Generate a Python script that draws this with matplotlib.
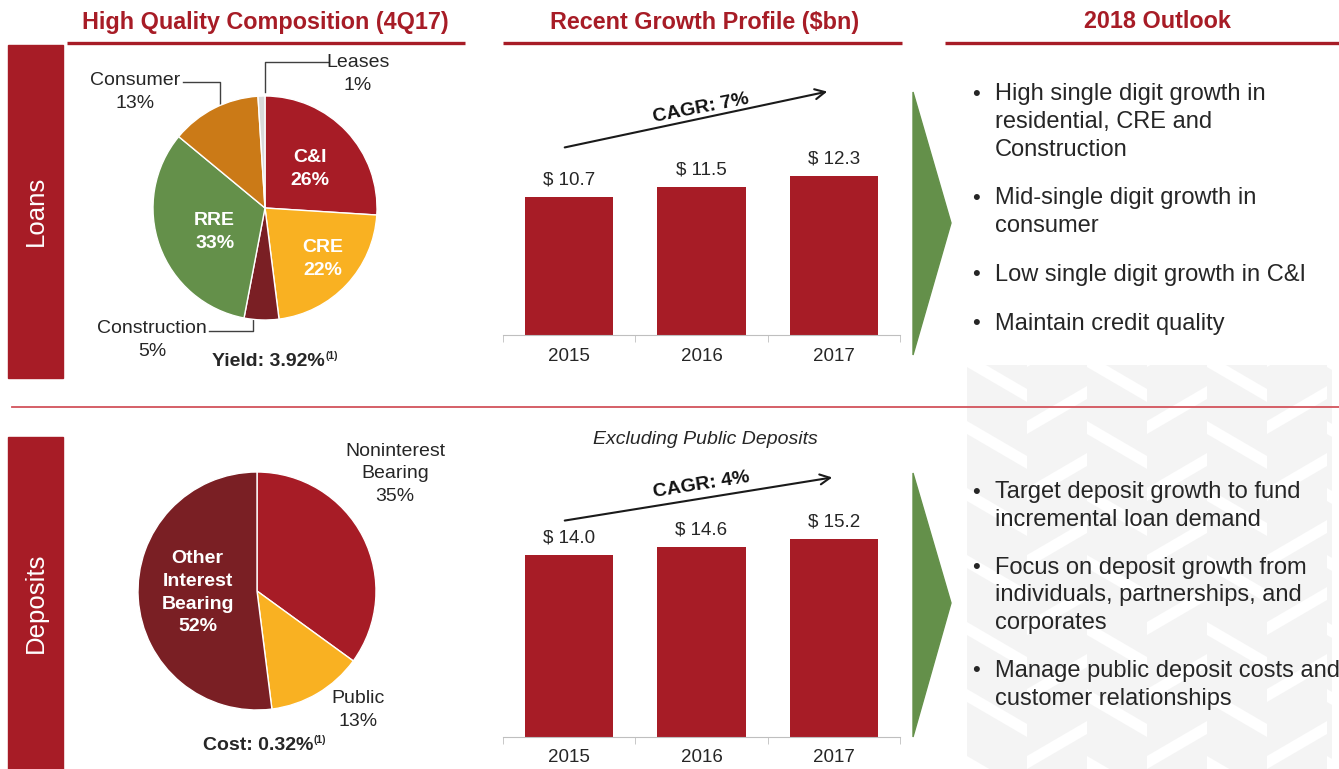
import numpy as np
import matplotlib
matplotlib.use("Agg")
import matplotlib.pyplot as plt
from matplotlib.patches import Rectangle, Polygon

plt.rcParams['font.family'] = ['Liberation Sans', 'DejaVu Sans']

# dati
years = ['2015', '2016', '2017']
loans_bn = [10.7, 11.5, 12.3]
deposits_bn = [14.0, 14.6, 15.2]

loan_labels = ['C&I', 'CRE', 'Construction', 'RRE', 'Consumer', 'Leases']
loan_share = [26, 22, 5, 33, 13, 1]
deposit_labels = ['Noninterest\nBearing', 'Public', 'Other\nInterest\nBearing']
deposit_share = [35, 13, 52]

loans_outlook = ['High single digit growth in\nresidential, CRE and\nConstruction',
                 'Mid-single digit growth in\nconsumer',
                 'Low single digit growth in C&I',
                 'Maintain credit quality']
deposits_outlook = ['Target deposit growth to fund\nincremental loan demand',
                    'Focus on deposit growth from\nindividuals, partnerships, and\ncorporates',
                    'Manage public deposit costs and\ncustomer relationships']

RED = '#A71C26'
DARKRED = '#7A1F24'
YELLOW = '#F9B122'
ORANGE = '#CB7A17'
GREEN = '#64904A'
GREY = '#D9D9D9'
TXT = '#262626'

W, H = 1339, 769
fig = plt.figure(figsize=(W / 100, H / 100), dpi=100)


def px_axes(x0, y0, x1, y1, **kw):
    return fig.add_axes([x0 / W, 1 - y1 / H, (x1 - x0) / W, (y1 - y0) / H], **kw)


# sfondo in coordinate pixel
bg = px_axes(0, 0, W, H)
bg.set_xlim(0, W)
bg.set_ylim(H, 0)
bg.axis('off')

# motivo a spina di pesce grigio chiaro (colonne di chevron)
clip = Rectangle((965, 365), W - 972, H - 365, transform=bg.transData, visible=False)
bg.add_patch(clip)
for i, cx in enumerate([967, 1027, 1087, 1147, 1207, 1267, 1327]):
    slope = 35 if i % 2 == 0 else -35
    for y in range(300, 820, 67):
        pts = [(cx, y), (cx + 60, y + slope), (cx + 60, y + slope + 54), (cx, y + 54)]
        p = Polygon(pts, closed=True, fc='#F4F4F4', ec='none', zorder=0)
        bg.add_patch(p)
        p.set_clip_path(clip)

# intestazioni
for txt, xc, xa, xb in [('High Quality Composition (4Q17)', 265, 67, 465),
                        ('Recent Growth Profile ($bn)', 705, 503, 902),
                        ('2018 Outlook', 1157, 945, 1339)]:
    bg.text(xc, 22, txt, ha='center', va='center', fontsize=16.8, fontweight='bold', color=RED)
    bg.plot([xa, xb], [43, 43], color=RED, lw=2.4, solid_capstyle='butt')

bg.plot([12, W], [407, 407], color='#D2535C', lw=1.3)

# barre laterali
bg.add_patch(Rectangle((8, 45), 55, 333, color=RED))
bg.add_patch(Rectangle((8, 437), 55, 332, color=RED))
bg.text(36, 211, 'Loans', rotation=90, ha='center', va='center', color='white', fontsize=18.5)
bg.text(36, 603, 'Deposits', rotation=90, ha='center', va='center', color='white', fontsize=18.5)

# frecce verdi
bg.add_patch(Polygon([(913, 92), (951, 223), (913, 355)], color=GREEN))
bg.add_patch(Polygon([(913, 473), (951, 603), (913, 737)], color=GREEN))


def bullets(items, y0, gap, line_h=27.8):
    y = y0
    for item in items:
        bg.text(972, y, '\u2022', ha='left', va='center', fontsize=16, color=TXT)
        for line in item.split('\n'):
            bg.text(995, y, line, ha='left', va='center', fontsize=17, color=TXT)
            y += line_h
        y += gap


bullets(loans_outlook, 94, 21)
bullets(deposits_outlook, 492, 20)


def draw_pie(box, shares, colors):
    ax = px_axes(*box)
    wedges, _ = ax.pie(shares, colors=colors, startangle=90, counterclock=False,
                       wedgeprops=dict(edgecolor='white', linewidth=1))
    ax.set_xlim(-1, 1)
    ax.set_ylim(-1, 1)
    ax.set_aspect('equal')
    ax.axis('off')
    return ax, wedges


def inner_label(ax, w, text, r, dang=0):
    ang = np.deg2rad((w.theta1 + w.theta2) / 2 + dang)
    ax.text(r * np.cos(ang), r * np.sin(ang), text, ha='center', va='center',
            color='white', fontweight='bold', fontsize=14, linespacing=1.45)


# torta prestiti
ax1, w1 = draw_pie((153, 96, 377, 320), loan_share,
                   [RED, YELLOW, DARKRED, GREEN, ORANGE, GREY])
inner_label(ax1, w1[0], f'{loan_labels[0]}\n{loan_share[0]}%', 0.53, -2)
inner_label(ax1, w1[1], f'{loan_labels[1]}\n{loan_share[1]}%', 0.69, 2)
inner_label(ax1, w1[3], f'{loan_labels[3]}\n{loan_share[3]}%', 0.5, 6)

lk = dict(ha='center', va='center', fontsize=14, color=TXT, linespacing=1.4)
bg.text(135, 92, f'{loan_labels[4]}\n{loan_share[4]}%', **lk)
bg.plot([183, 220, 220], [82, 82, 106], color='#404040', lw=1)
bg.text(358, 74, f'{loan_labels[5]}\n{loan_share[5]}%', **lk)
bg.plot([265, 265, 328], [92, 62, 62], color='#404040', lw=1)
bg.text(152, 340, f'{loan_labels[2]}\n{loan_share[2]}%', **lk)
bg.plot([209, 253, 253], [331, 331, 317], color='#404040', lw=1)
bg.text(325, 362, 'Yield: 3.92%', ha='right', va='center', fontsize=14, fontweight='bold', color=TXT)
bg.text(325, 356, '(1)', ha='left', va='center', fontsize=7.5, fontweight='bold', color=TXT)

# torta depositi
ax2, w2 = draw_pie((138, 472, 376, 710), deposit_share, [RED, YELLOW, DARKRED])
inner_label(ax2, w2[2], f'{deposit_labels[2]}\n{deposit_share[2]}%', 0.5, -2)
bg.text(395, 474, f'{deposit_labels[0]}\n{deposit_share[0]}%', **lk)
bg.text(358, 710, f'{deposit_labels[1]}\n{deposit_share[1]}%', **lk)
bg.text(313, 746, 'Cost: 0.32%', ha='right', va='center', fontsize=14, fontweight='bold', color=TXT)
bg.text(313, 740, '(1)', ha='left', va='center', fontsize=7.5, fontweight='bold', color=TXT)


def draw_bars(box, vals):
    ax = px_axes(*box)
    ax.patch.set_alpha(0)
    x = np.arange(len(years))
    ax.bar(x, vals, width=0.67, color=RED)
    for xi, v in zip(x, vals):
        ax.annotate(f'$ {v:.1f}', (xi, v), xytext=(0, 6), textcoords='offset points',
                    ha='center', va='bottom', fontsize=13.5, color=TXT)
    ax.set_xlim(-0.5, 2.5)
    ax.set_ylim(0, 21.3)
    for s in ['top', 'right', 'left']:
        ax.spines[s].set_visible(False)
    ax.spines['bottom'].set_color('#BFBFBF')
    ax.set_yticks([])
    ax.set_xticks(x)
    ax.set_xticklabels(years, fontsize=13.5, color=TXT)
    ax.tick_params(axis='x', which='major', length=0, pad=9)
    ax.set_xticks([-0.5, 0.5, 1.5, 2.5], minor=True)
    ax.tick_params(axis='x', which='minor', length=5, color='#BFBFBF', direction='out')
    return ax


draw_bars((503, 60, 900, 335), loans_bn)
draw_bars((503, 460, 900, 737), deposits_bn)

# frecce CAGR
for (x0, y0, x1, y1, tx, ty, rot, lab) in [(562, 148, 830, 91, 701, 108, 11, 'CAGR: 7%'),
                                           (562, 521, 835, 477, 701, 485, 9, 'CAGR: 4%')]:
    bg.annotate('', xy=(x1, y1), xytext=(x0, y0),
                arrowprops=dict(arrowstyle='->', color='#1A1A1A', lw=1.5, mutation_scale=18))
    bg.text(tx, ty, lab, ha='center', va='center', rotation=rot, fontsize=14,
            fontweight='bold', color='#111111')

bg.text(705, 439, 'Excluding Public Deposits', ha='center', va='center', fontsize=14,
        style='italic', color=TXT)

fig.savefig('out.png', dpi=100)
